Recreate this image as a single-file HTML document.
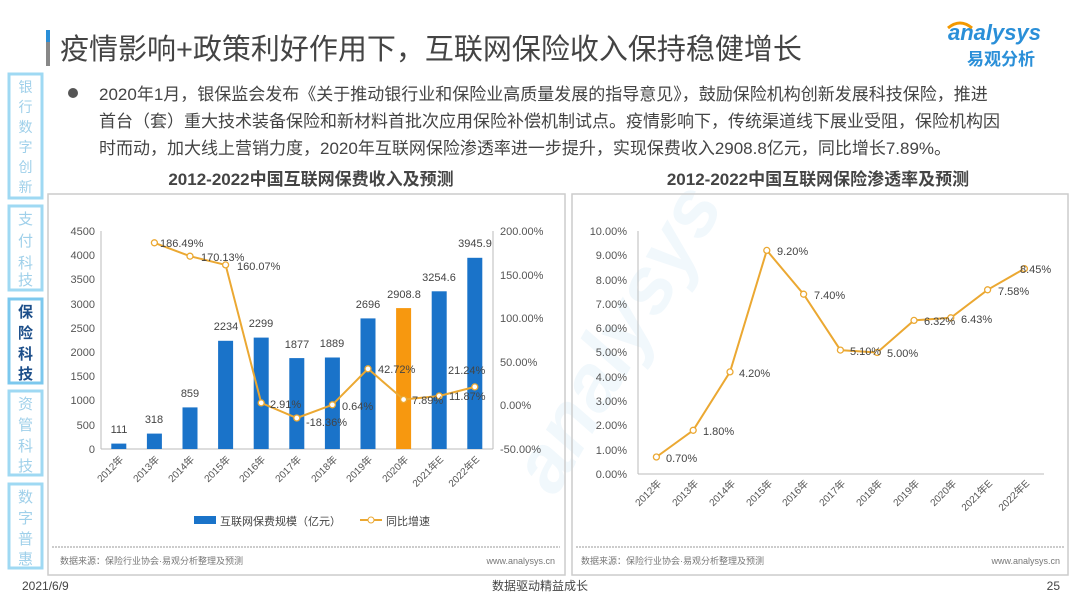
<!DOCTYPE html>
<html><head><meta charset="utf-8"><style>
body{margin:0;width:1080px;height:608px;background:#fff;overflow:hidden;font-family:"Liberation Sans","Noto Sans CJK SC",sans-serif}
</style></head><body>
<svg width="1080" height="608" viewBox="0 0 1080 608" xmlns="http://www.w3.org/2000/svg" font-family="Liberation Sans, Noto Sans CJK SC, sans-serif">
<text x="430" y="420" font-size="80" fill="#f1f8fc" font-style="italic" font-weight="bold" transform="rotate(-60 560 350)">analysys</text>
<rect x="46" y="30" width="4" height="36" fill="#888"/>
<rect x="46" y="30" width="4" height="12" fill="#2a8fd8"/>
<text x="60" y="59" font-size="29" fill="#444">疫情影响+政策利好作用下，互联网保险收入保持稳健增长</text>
<text x="948" y="40" font-size="22" font-style="italic" fill="#2a8fd8" font-weight="bold">analysys</text>
<path d="M948 28 q12 -10 24 0" stroke="#f39800" stroke-width="3" fill="none"/>
<text x="967" y="65" font-size="17" fill="#2a8fd8" font-weight="bold">易观分析</text>
<g font-size="15" text-anchor="middle">
<rect x="9" y="74" width="33" height="124" fill="#fff" stroke="#9fd9f3" stroke-width="3"/>
<text fill="#9fd0ea" font-size="14"><tspan x="25.5" y="92">银</tspan><tspan x="25.5" y="112">行</tspan><tspan x="25.5" y="132">数</tspan><tspan x="25.5" y="152">字</tspan><tspan x="25.5" y="172">创</tspan><tspan x="25.5" y="192">新</tspan></text>
<rect x="9" y="206" width="33" height="84" fill="#fff" stroke="#9fd9f3" stroke-width="3"/>
<text fill="#9fd0ea"><tspan x="25.5" y="224">支</tspan><tspan x="25.5" y="246">付</tspan><tspan x="25.5" y="268">科</tspan><tspan x="25.5" y="285">技</tspan></text>
<rect x="9" y="299" width="33" height="84" fill="#fff" stroke="#7cc8ee" stroke-width="3"/>
<text fill="#1d4f8a" font-weight="bold"><tspan x="25.5" y="317">保</tspan><tspan x="25.5" y="338">险</tspan><tspan x="25.5" y="359">科</tspan><tspan x="25.5" y="379">技</tspan></text>
<rect x="9" y="391" width="33" height="84" fill="#fff" stroke="#9fd9f3" stroke-width="3"/>
<text fill="#9fd0ea"><tspan x="25.5" y="409">资</tspan><tspan x="25.5" y="430">管</tspan><tspan x="25.5" y="451">科</tspan><tspan x="25.5" y="471">技</tspan></text>
<rect x="9" y="484" width="33" height="84" fill="#fff" stroke="#9fd9f3" stroke-width="3"/>
<text fill="#9fd0ea"><tspan x="25.5" y="502">数</tspan><tspan x="25.5" y="523">字</tspan><tspan x="25.5" y="544">普</tspan><tspan x="25.5" y="564">惠</tspan></text>
</g>
<circle cx="73" cy="93" r="5" fill="#555"/>
<g font-size="17" fill="#444">
<text x="99" y="100">2020年1月，银保监会发布《关于推动银行业和保险业高质量发展的指导意见》，鼓励保险机构创新发展科技保险，推进</text>
<text x="99" y="127">首台（套）重大技术装备保险和新材料首批次应用保险补偿机制试点。疫情影响下，传统渠道线下展业受阻，保险机构因</text>
<text x="99" y="154">时而动，加大线上营销力度，2020年互联网保险渗透率进一步提升，实现保费收入2908.8亿元，同比增长7.89%。</text>
</g>
<g font-size="17" font-weight="bold" fill="#444" text-anchor="middle">
<text x="311" y="185">2012-2022中国互联网保费收入及预测</text>
<text x="818" y="185">2012-2022中国互联网保险渗透率及预测</text>
</g>
<rect x="48" y="194" width="517" height="381" fill="none" stroke="#ccc" stroke-width="1.5"/>
<rect x="572" y="194" width="496" height="381" fill="none" stroke="#ccc" stroke-width="1.5"/>
<line x1="52" y1="547" x2="560" y2="547" stroke="#999" stroke-dasharray="2,1"/>
<line x1="576" y1="547" x2="1064" y2="547" stroke="#999" stroke-dasharray="2,1"/>
<g font-size="9" fill="#777">
<text x="60" y="564">数据来源：保险行业协会·易观分析整理及预测</text>
<text x="555" y="564" text-anchor="end">www.analysys.cn</text>
<text x="581" y="564">数据来源：保险行业协会·易观分析整理及预测</text>
<text x="1060" y="564" text-anchor="end">www.analysys.cn</text>
</g>
<text x="22" y="590" font-size="12" fill="#444">2021/6/9</text>
<text x="540" y="590" font-size="12" fill="#444" text-anchor="middle">数据驱动精益成长</text>
<text x="1060" y="590" font-size="12" fill="#444" text-anchor="end">25</text>
<g stroke="#bbb"><line x1="101" y1="231" x2="101" y2="449"/><line x1="101" y1="449" x2="493" y2="449"/><line x1="493" y1="231" x2="493" y2="449"/></g>
<g font-size="11" fill="#555" text-anchor="end">
<text x="95" y="235">4500</text><text x="95" y="259">4000</text><text x="95" y="283">3500</text><text x="95" y="308">3000</text><text x="95" y="332">2500</text><text x="95" y="356">2000</text><text x="95" y="380">1500</text><text x="95" y="404">1000</text><text x="95" y="429">500</text><text x="95" y="453">0</text>
</g>
<g font-size="11" fill="#555">
<text x="500" y="235">200.00%</text><text x="500" y="279">150.00%</text><text x="500" y="322">100.00%</text><text x="500" y="366">50.00%</text><text x="500" y="409">0.00%</text><text x="500" y="453">-50.00%</text>
</g>
<g fill="#1a73c9">
<rect x="111.3" y="443.6" width="15" height="5.4"/><rect x="146.9" y="433.6" width="15" height="15.4"/><rect x="182.5" y="407.4" width="15" height="41.6"/><rect x="218.1" y="340.8" width="15" height="108.2"/><rect x="253.7" y="337.6" width="15" height="111.4"/><rect x="289.3" y="358.1" width="15" height="90.9"/><rect x="324.9" y="357.5" width="15" height="91.5"/><rect x="360.5" y="318.4" width="15" height="130.6"/><rect x="431.7" y="291.3" width="15" height="157.7"/><rect x="467.3" y="257.8" width="15" height="191.2"/>
</g>
<rect x="396.1" y="308.1" width="15" height="140.9" fill="#f7980f"/>
<g font-size="11" fill="#444" text-anchor="middle">
<text x="119" y="433">111</text><text x="154" y="423">318</text><text x="190" y="397">859</text><text x="226" y="330">2234</text><text x="261" y="327">2299</text><text x="297" y="348">1877</text><text x="332" y="347">1889</text><text x="368" y="308">2696</text><text x="404" y="298">2908.8</text><text x="439" y="281">3254.6</text><text x="475" y="247">3945.9</text>
</g>
<polyline points="154.4,242.8 190,256.2 225.6,264.9 261.2,402.9 296.8,418 332.4,404.8 368,368.8 403.6,399.5 439.2,396 474.8,386.9" fill="none" stroke="#eba832" stroke-width="2"/>
<g fill="#fff" stroke="#eba832" stroke-width="1.3">
<circle cx="154.4" cy="242.8" r="3"/><circle cx="190" cy="256.2" r="3"/><circle cx="225.6" cy="264.9" r="3"/><circle cx="261.2" cy="402.9" r="3"/><circle cx="296.8" cy="418" r="3"/><circle cx="332.4" cy="404.8" r="3"/><circle cx="368" cy="368.8" r="3"/><circle cx="403.6" cy="399.5" r="3"/><circle cx="439.2" cy="396" r="3"/><circle cx="474.8" cy="386.9" r="3"/>
</g>
<g font-size="11" fill="#444">
<text x="160" y="247">186.49%</text><text x="201" y="261">170.13%</text><text x="237" y="270">160.07%</text><text x="270" y="408">2.91%</text><text x="306" y="426">-18.36%</text><text x="342" y="410">0.64%</text><text x="378" y="373">42.72%</text><text x="412" y="404">7.89%</text><text x="449" y="400">11.87%</text><text x="448" y="374">21.24%</text>
</g>
<g font-size="10" fill="#555" text-anchor="end">
<text transform="translate(124,460) rotate(-45)">2012年</text><text transform="translate(160,460) rotate(-45)">2013年</text><text transform="translate(195,460) rotate(-45)">2014年</text><text transform="translate(231,460) rotate(-45)">2015年</text><text transform="translate(266,460) rotate(-45)">2016年</text><text transform="translate(302,460) rotate(-45)">2017年</text><text transform="translate(338,460) rotate(-45)">2018年</text><text transform="translate(373,460) rotate(-45)">2019年</text><text transform="translate(409,460) rotate(-45)">2020年</text><text transform="translate(444,460) rotate(-45)">2021年E</text><text transform="translate(480,460) rotate(-45)">2022年E</text>
</g>
<rect x="194" y="516" width="22" height="8" fill="#1a73c9"/>
<text x="220" y="525" font-size="11" fill="#444">互联网保费规模（亿元）</text>
<line x1="360" y1="520" x2="382" y2="520" stroke="#eba832" stroke-width="2"/><circle cx="371" cy="520" r="3" fill="#fff" stroke="#eba832"/>
<text x="386" y="525" font-size="11" fill="#444">同比增速</text>
<g stroke="#bbb"><line x1="638" y1="231" x2="638" y2="474"/><line x1="638" y1="474" x2="1044" y2="474"/></g>
<g font-size="11" fill="#555" text-anchor="end">
<text x="627" y="235">10.00%</text><text x="627" y="259">9.00%</text><text x="627" y="284">8.00%</text><text x="627" y="308">7.00%</text><text x="627" y="332">6.00%</text><text x="627" y="356">5.00%</text><text x="627" y="381">4.00%</text><text x="627" y="405">3.00%</text><text x="627" y="429">2.00%</text><text x="627" y="454">1.00%</text><text x="627" y="478">0.00%</text>
</g>
<polyline points="656.4,457 693.2,430.3 730,371.9 766.8,250.4 803.6,294.2 840.4,350.1 877.2,352.5 914,320.4 950.8,317.8 987.6,289.8 1024.4,268.7" fill="none" stroke="#eba832" stroke-width="2"/>
<g fill="#fff" stroke="#eba832" stroke-width="1.3">
<circle cx="656.4" cy="457" r="3"/><circle cx="693.2" cy="430.3" r="3"/><circle cx="730" cy="371.9" r="3"/><circle cx="766.8" cy="250.4" r="3"/><circle cx="803.6" cy="294.2" r="3"/><circle cx="840.4" cy="350.1" r="3"/><circle cx="877.2" cy="352.5" r="3"/><circle cx="914" cy="320.4" r="3"/><circle cx="950.8" cy="317.8" r="3"/><circle cx="987.6" cy="289.8" r="3"/><circle cx="1024.4" cy="268.7" r="3"/>
</g>
<g font-size="11" fill="#444">
<text x="666" y="462">0.70%</text><text x="703" y="435">1.80%</text><text x="739" y="377">4.20%</text><text x="777" y="255">9.20%</text><text x="814" y="299">7.40%</text><text x="850" y="355">5.10%</text><text x="887" y="357">5.00%</text><text x="924" y="325">6.32%</text><text x="961" y="323">6.43%</text><text x="998" y="295">7.58%</text><text x="1020" y="273">8.45%</text>
</g>
<g font-size="10" fill="#555" text-anchor="end">
<text transform="translate(662,484) rotate(-45)">2012年</text><text transform="translate(699,484) rotate(-45)">2013年</text><text transform="translate(736,484) rotate(-45)">2014年</text><text transform="translate(773,484) rotate(-45)">2015年</text><text transform="translate(809,484) rotate(-45)">2016年</text><text transform="translate(846,484) rotate(-45)">2017年</text><text transform="translate(883,484) rotate(-45)">2018年</text><text transform="translate(920,484) rotate(-45)">2019年</text><text transform="translate(957,484) rotate(-45)">2020年</text><text transform="translate(993,484) rotate(-45)">2021年E</text><text transform="translate(1030,484) rotate(-45)">2022年E</text>
</g>
</svg>
</body></html>
